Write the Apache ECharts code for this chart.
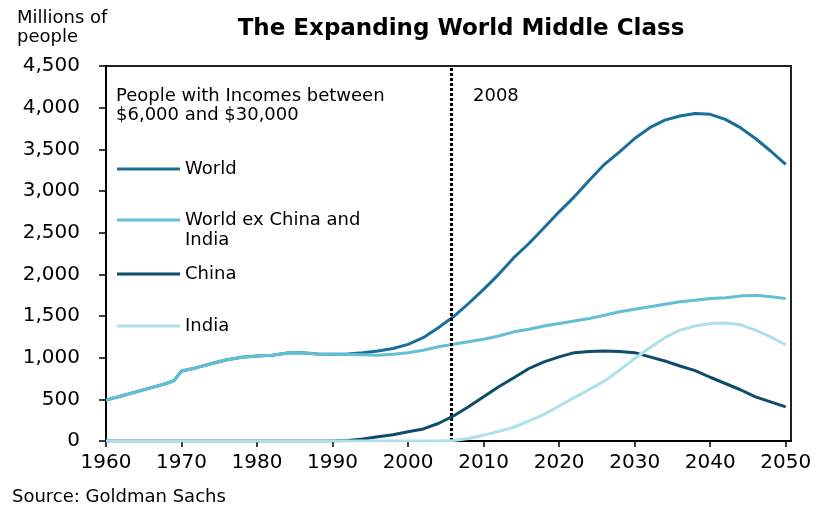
<!DOCTYPE html>
<html>
<head>
<meta charset="utf-8">
<script src="https://cdn.jsdelivr.net/npm/echarts@6/dist/echarts.min.js"></script>
<style>
html,body{margin:0;padding:0;background:#fff;}
#chart{width:821px;height:507px;}
</style>
</head>
<body>
<div id="chart"></div>
<script>
var years = [1960,1962,1964,1966,1968,1969,1970,1972,1974,1976,1978,1980,1982,1984,1986,1988,1990,1992,1994,1996,1998,2000,2002,2004,2006,2008,2010,2012,2014,2016,2018,2020,2022,2024,2026,2028,2030,2032,2034,2036,2038,2040,2042,2044,2046,2048,2050];

var world = [490,540,590,640,690,725,840,880,930,975,1005,1020,1030,1055,1060,1045,1040,1045,1060,1080,1110,1160,1240,1360,1490,1650,1820,2000,2200,2370,2560,2750,2930,3130,3320,3470,3630,3760,3850,3900,3930,3920,3860,3760,3630,3480,3320];

var worldExChinaIndia = [490,540,590,640,690,725,840,880,930,975,1005,1020,1030,1055,1060,1045,1040,1040,1035,1030,1040,1060,1090,1130,1160,1190,1220,1260,1310,1340,1380,1410,1440,1470,1510,1550,1580,1610,1640,1670,1690,1710,1720,1740,1750,1730,1710];

var china = [0,0,0,0,0,0,0,0,0,0,0,0,0,0,0,0,0,5,25,50,75,110,145,210,300,410,530,650,760,870,950,1010,1060,1075,1080,1075,1060,1010,960,900,845,765,690,615,530,470,410];

var india = [0,0,0,0,0,0,0,0,0,0,0,0,0,0,0,0,0,0,0,0,0,0,0,0,5,30,70,115,165,240,320,420,520,620,720,850,990,1120,1240,1330,1380,1410,1415,1395,1330,1250,1155];

var seriesNames = ['World', 'World ex China and\nIndia', 'China', 'India'];
var seriesColors = ['#1b6e98', '#62bfd4', '#0e4c69', '#aee0ec'];
var markYear = 2005.7;

var FONT = '"DejaVu Sans", "Liberation Sans", Arial, sans-serif';

function pairs(arr){ return years.map(function(y,i){ return [y, arr[i]]; }); }

var chart = echarts.init(document.getElementById('chart'));

var dataSets = [world, worldExChinaIndia, china, india];
var series = dataSets.map(function(d, i){
  var s = {
    name: seriesNames[i],
    type: 'line',
    data: pairs(d),
    symbol: 'none',
    smooth: false,
    lineStyle: { width: 3, color: seriesColors[i] },
    itemStyle: { color: seriesColors[i] },
    z: 3 + i
  };
  if (i === 0) {
    s.markLine = {
      silent: true,
      symbol: 'none',
      label: { show: false },
      lineStyle: { color: '#000', type: [3, 2], width: 3 },
      data: [{ xAxis: markYear }]
    };
  }
  return s;
});

// icon for the two-line legend entry: bar aligned with the first text line
var twoLineIcon = 'path://M0,0L0.01,0L0,0.01Z M0,8.5L63,8.5L63,11.5L0,11.5Z M63,40L62.99,40L63,39.99Z';

var legendTops = [159, 210, 264, 316];
var legends = seriesNames.map(function(n, i){
  var two = (i === 1);
  return {
    data: [n],
    left: 117,
    top: legendTops[i],
    padding: 0,
    icon: two ? twoLineIcon : 'rect',
    itemWidth: 63,
    itemHeight: two ? 40 : 3,
    itemGap: 0,
    selectedMode: false,
    textStyle: { fontSize: 18, fontFamily: FONT, color: '#000', lineHeight: 20 }
  };
});

chart.setOption({
  animation: false,
  backgroundColor: '#fff',
  grid: { left: 106, right: 30, top: 66, bottom: 66, show: true, borderColor: '#222', borderWidth: 2, backgroundColor: 'transparent' },
  legend: legends,
  xAxis: {
    type: 'value',
    min: 1960,
    max: 2050.7,
    interval: 10,
    splitLine: { show: false },
    axisLine: { show: true, lineStyle: { color: '#000', width: 2 } },
    axisTick: { show: true, length: 6, lineStyle: { color: '#000', width: 1.5 } },
    axisLabel: {
      fontSize: 20, fontFamily: FONT, color: '#000', margin: 12,
      showMaxLabel: false,
      formatter: function(v){ return (Math.abs(v % 10) < 1e-6) ? String(v) : ''; }
    }
  },
  yAxis: {
    type: 'value',
    min: 0,
    max: 4500,
    interval: 500,
    splitLine: { show: false },
    axisLine: { show: true, lineStyle: { color: '#000', width: 2 } },
    axisTick: { show: true, length: 7, lineStyle: { color: '#000', width: 1.5 } },
    axisLabel: {
      fontSize: 20, fontFamily: FONT, color: '#000', margin: 26,
      formatter: function(v){ return v.toLocaleString('en-US'); }
    }
  },
  graphic: [
    { type: 'text', x: 461, y: 29, style: { text: 'The Expanding World Middle Class', font: 'bold 23px ' + FONT, fill: '#000', align: 'center', verticalAlign: 'middle', textAlign: 'center', textVerticalAlign: 'middle' } },
    { type: 'text', x: 17, y: 9, style: { text: 'Millions of\npeople', font: '18px ' + FONT, fill: '#000', lineHeight: 19, align: 'left', verticalAlign: 'top', textAlign: 'left', textVerticalAlign: 'top' } },
    { type: 'text', x: 116, y: 87, style: { text: 'People with Incomes between\n$6,000 and $30,000', font: '18px ' + FONT, fill: '#000', lineHeight: 19, align: 'left', verticalAlign: 'top', textAlign: 'left', textVerticalAlign: 'top' } },
    { type: 'text', x: 473, y: 96, style: { text: '2008', font: '18px ' + FONT, fill: '#000', align: 'left', verticalAlign: 'middle', textAlign: 'left', textVerticalAlign: 'middle' } },
    { type: 'text', x: 12, y: 497, style: { text: 'Source: Goldman Sachs', font: '18px ' + FONT, fill: '#000', align: 'left', verticalAlign: 'middle', textAlign: 'left', textVerticalAlign: 'middle' } }
  ],
  series: series
});
</script>
</body>
</html>
